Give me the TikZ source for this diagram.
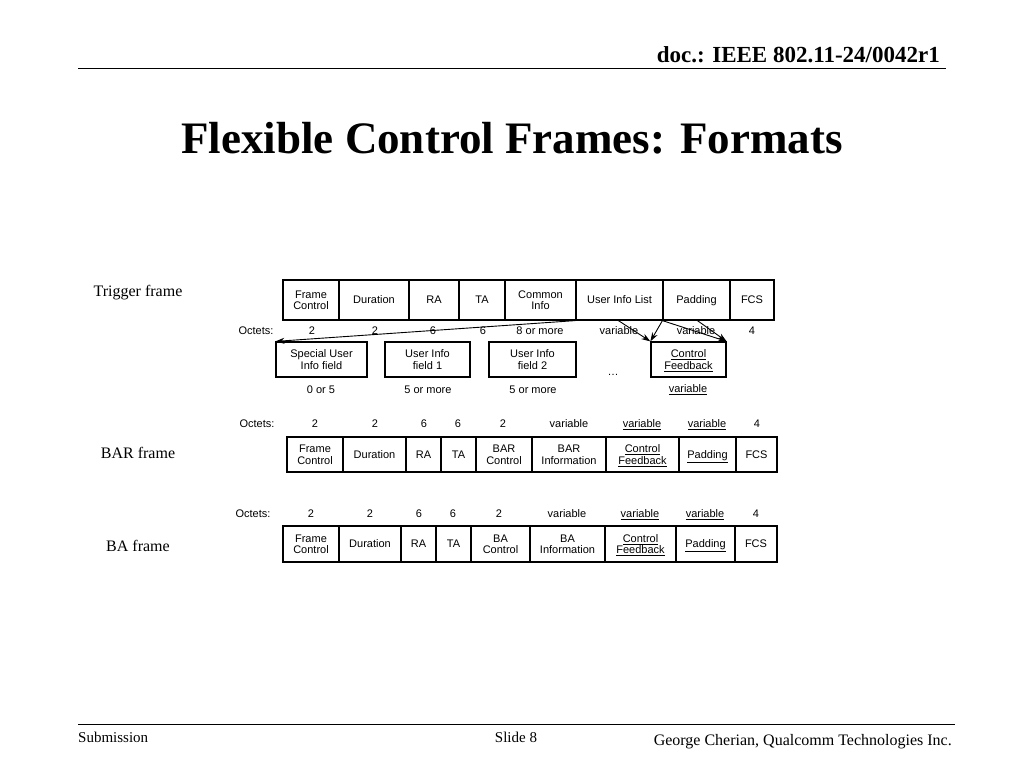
\documentclass[tikz,border=0pt]{standalone}
\usepackage{fontspec}
\setmainfont{Liberation Serif}
\newfontfamily\arial{Liberation Sans}
\usetikzlibrary{arrows.meta}
\begin{document}
\begin{tikzpicture}[x=1pt,y=-1pt,
  fld/.style={draw,line width=1.2pt,inner sep=0pt,font=\arial\fontsize{11}{11.5}\selectfont,align=center,text depth=0pt},
  oct/.style={font=\arial\fontsize{11}{11.5}\selectfont,inner sep=0pt,text height=8pt,text depth=2.5pt},
  lbl/.style={font=\fontsize{16}{18}\selectfont,inner sep=0pt},
  arr/.style={-{Stealth[length=9pt,width=6pt]},line width=0.9pt}]
\useasboundingbox (0,0) rectangle (1024,768);
\node[font=\bfseries\fontsize{23}{25}\selectfont,anchor=east,inner sep=0pt] (hdr) at (940,55) {doc.: IEEE 802.11-24/0042r1};
\draw[line width=1pt] (78,68) coordinate (h1) -- (946,68) coordinate (h2);
\node[font=\bfseries\fontsize{45}{48}\selectfont,inner sep=0pt] (title) at (512,138) {Flexible Control Frames: Formats};
\draw[line width=1pt] (78,724) coordinate (f1) -- (955,724) coordinate (f2);
\node[font=\fontsize{15}{17}\selectfont,anchor=west,inner sep=0pt] (sub) at (78,737) {Submission};
\node[font=\fontsize{15}{17}\selectfont,inner sep=0pt] (slide) at (516,737) {Slide 8};
\node[font=\fontsize{16}{18}\selectfont,anchor=east,inner sep=0pt] (auth) at (952,742) {George Cherian, Qualcomm Technologies Inc.};
\node[lbl] (ltrig) at (138,293) {Trigger frame};
\node[lbl] (lbar) at (138,453) {BAR frame};
\node[lbl] (lba) at (138,546) {BA frame};
% Trigger frame
\foreach \a/\b/\t [count=\i] in {283/339/{Frame\\Control},339/409/Duration,409/459/RA,459/505/TA,505/576/{Common\\Info},576/663/User Info List,663/730/Padding,730/774/FCS}
  \node[fld,minimum width={\b-\a},minimum height=40] (t\i) at ({(\a+\b)/2},300) {\t};
\node[oct] (to0) at (256,332) {Octets:};
\foreach \x/\t [count=\i] in {312/2,375/2,433/6,483/6,540/8 or more,619/variable,696/variable,752/4}
  \node[oct] (to\i) at (\x,332) {\t};
\node[fld,minimum width=91,minimum height=35] (su) at (321.5,359.5) {Special User\\Info field};
\node[fld,minimum width=85,minimum height=35] (u1) at (427.5,359.5) {User Info\\field 1};
\node[fld,minimum width=87,minimum height=35] (u2) at (532.5,359.5) {User Info\\field 2};
\node[fld,minimum width=75,minimum height=35] (cf) at (688.5,359.5) {\underline{Control}\\\underline{Feedback}};
\node[oct] (dots) at (613,373) {\dots};
\node[oct] (s1) at (321,391) {0 or 5};
\node[oct] (s2) at (428,391) {5 or more};
\node[oct] (s3) at (533,391) {5 or more};
\node[oct] (s4) at (688,390) {\underline{variable}};
\draw[arr] (t6.south west) -- (su.north west);
\draw[arr] ([xshift=43pt]t6.south west) -- (cf.north west);
\draw[arr] (t7.south west) -- (cf.north west);
\draw[arr] (t7.south west) -- (cf.north east);
\draw[arr] ([xshift=35pt]t7.south west) -- (cf.north east);
% BAR frame
\foreach \a/\b/\t [count=\i] in {287/343/{Frame\\Control},343/406/Duration,406/441/RA,441/476/TA,476/532/{BAR\\Control},532/606/{BAR\\Information},606/679/{\underline{Control}\\\underline{Feedback}},679/736/\underline{Padding},736/777/FCS}
  \node[fld,minimum width={\b-\a},minimum height=35] (r\i) at ({(\a+\b)/2},454.5) {\t};
\node[oct] (ro0) at (257,425) {Octets:};
\foreach \x/\t [count=\i] in {315/2,375/2,424/6,458/6,503/2,569/variable,642/\underline{variable},707/\underline{variable},757/4}
  \node[oct] (ro\i) at (\x,425) {\t};
% BA frame
\foreach \a/\b/\t [count=\i] in {283/339/{Frame\\Control},339/401/Duration,401/436/RA,436/471/TA,471/530/{BA\\Control},530/605/{BA\\Information},605/676/{\underline{Control}\\\underline{Feedback}},676/735/\underline{Padding},735/777/FCS}
  \node[fld,minimum width={\b-\a},minimum height=36] (a\i) at ({(\a+\b)/2},544) {\t};
\node[oct] (ao0) at (253,515) {Octets:};
\foreach \x/\t [count=\i] in {311/2,370/2,419/6,453/6,499/2,567/variable,640/\underline{variable},705/\underline{variable},756/4}
  \node[oct] (ao\i) at (\x,515) {\t};
\end{tikzpicture}
\end{document}
